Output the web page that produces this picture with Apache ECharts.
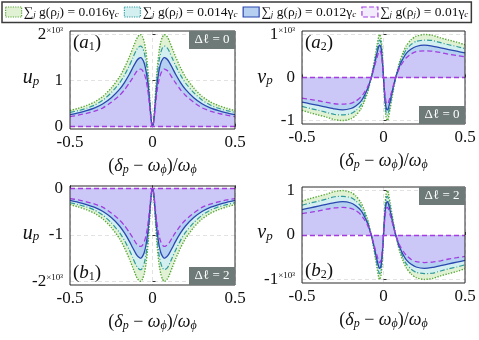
<!DOCTYPE html>
<html>
<head>
<meta charset="utf-8">
<script src="https://cdn.jsdelivr.net/npm/echarts@6/dist/echarts.min.js"></script>
<style>
  html, body { margin: 0; padding: 0; background: #fff; }
  #chart { width: 479px; height: 340px; }
</style>
</head>
<body>
<div id="chart"></div>
<script>
// detuning (δp - ωφ)/ωφ
const detuning = [-0.5,-0.45,-0.4,-0.35,-0.3,-0.25,-0.2,-0.17,-0.14,-0.12,-0.1,-0.09,-0.08,-0.075,-0.07,-0.06,-0.05,-0.04,-0.03,-0.025,-0.02,-0.015,-0.01,-0.005,
  0,0.005,0.01,0.015,0.02,0.025,0.03,0.04,0.05,0.06,0.07,0.075,0.08,0.09,0.1,0.12,0.14,0.17,0.2,0.25,0.3,0.35,0.4,0.45,0.5];

// u_p (×10^3), Δℓ = 0
const uG016 = [0.35,0.40,0.46,0.54,0.66,0.84,1.08,1.28,1.52,1.70,1.88,1.95,1.99,2.0,2.0,1.95,1.84,1.64,1.32,1.10,0.84,0.56,0.28,0.08,
  0,0.08,0.28,0.56,0.84,1.10,1.32,1.64,1.84,1.95,2.0,2.0,1.99,1.95,1.88,1.70,1.52,1.28,1.08,0.84,0.66,0.54,0.46,0.40,0.35];
const uG014 = [0.31,0.35,0.40,0.47,0.58,0.74,0.95,1.12,1.33,1.49,1.65,1.71,1.74,1.75,1.75,1.71,1.61,1.44,1.16,0.96,0.74,0.49,0.25,0.07,
  0,0.07,0.25,0.49,0.74,0.96,1.16,1.44,1.61,1.71,1.75,1.75,1.74,1.71,1.65,1.49,1.33,1.12,0.95,0.74,0.58,0.47,0.40,0.35,0.31];
const uG012 = [0.26,0.30,0.35,0.41,0.50,0.63,0.81,0.96,1.14,1.28,1.41,1.46,1.49,1.50,1.50,1.46,1.38,1.23,0.99,0.83,0.63,0.42,0.21,0.06,
  0,0.06,0.21,0.42,0.63,0.83,0.99,1.23,1.38,1.46,1.50,1.50,1.49,1.46,1.41,1.28,1.14,0.96,0.81,0.63,0.50,0.41,0.35,0.30,0.26];
const uG010 = [0.22,0.25,0.29,0.34,0.41,0.53,0.68,0.80,0.95,1.06,1.18,1.22,1.24,1.25,1.25,1.22,1.15,1.03,0.83,0.69,0.53,0.35,0.18,0.05,
  0,0.05,0.18,0.35,0.53,0.69,0.83,1.03,1.15,1.22,1.25,1.25,1.24,1.22,1.18,1.06,0.95,0.80,0.68,0.53,0.41,0.34,0.29,0.25,0.22];

// v_p (×10^3), Δℓ = 0
const vG016 = [-0.76,-0.82,-0.87,-0.92,-0.98,-1.0,-0.96,-0.88,-0.74,-0.58,-0.38,-0.24,-0.08,0,0.10,0.30,0.52,0.74,0.94,1.0,0.98,0.90,0.70,0.38,
  0,-0.38,-0.70,-0.90,-0.98,-1.0,-0.94,-0.74,-0.52,-0.30,-0.10,0,0.08,0.24,0.38,0.58,0.74,0.88,0.96,1.0,0.98,0.92,0.87,0.82,0.76];
const vG014 = [-0.67,-0.72,-0.76,-0.81,-0.86,-0.87,-0.84,-0.77,-0.65,-0.51,-0.33,-0.21,-0.07,0,0.08,0.26,0.45,0.65,0.82,0.87,0.86,0.79,0.61,0.33,
  0,-0.33,-0.61,-0.79,-0.86,-0.87,-0.82,-0.65,-0.45,-0.26,-0.08,0,0.07,0.21,0.33,0.51,0.65,0.77,0.84,0.87,0.86,0.81,0.76,0.72,0.67];
const vG012 = [-0.57,-0.61,-0.65,-0.69,-0.73,-0.75,-0.72,-0.66,-0.56,-0.44,-0.28,-0.18,-0.06,0,0.07,0.22,0.39,0.56,0.71,0.75,0.74,0.68,0.52,0.29,
  0,-0.29,-0.52,-0.68,-0.74,-0.75,-0.71,-0.56,-0.39,-0.22,-0.07,0,0.06,0.18,0.28,0.44,0.56,0.66,0.72,0.75,0.73,0.69,0.65,0.61,0.57];
const vG010 = [-0.48,-0.51,-0.54,-0.58,-0.61,-0.62,-0.60,-0.55,-0.46,-0.36,-0.24,-0.15,-0.05,0,0.06,0.19,0.33,0.46,0.59,0.62,0.61,0.56,0.44,0.24,
  0,-0.24,-0.44,-0.56,-0.61,-0.62,-0.59,-0.46,-0.33,-0.19,-0.06,0,0.05,0.15,0.24,0.36,0.46,0.55,0.60,0.62,0.61,0.58,0.54,0.51,0.48];

const couplings = ['0.016', '0.014', '0.012', '0.01'];
const uSets = [uG016, uG014, uG012, uG010];
const vSets = [vG016, vG014, vG012, vG010];

const SERIF = '"Liberation Serif", "DejaVu Serif", serif';
const lineColors = ['#5aa83a', '#2f9a9c', '#2a48b0', '#a43ce0'];
const fillColors = ['#e1f2d4', '#d3eff0', '#b5d0f1', '#cbc7f6'];
const lineTypes = ['dotted', [5, 2, 1, 2], 'solid', [5, 3]];
const lineWidths = [1.4, 1.2, 1.3, 1.3];

const grids = [
  { left: 70, top: 31, width: 165, height: 98 },
  { left: 302, top: 31, width: 163, height: 93 },
  { left: 70, top: 186, width: 165, height: 99 },
  { left: 302, top: 187, width: 163, height: 96 }
];

// each panel: which quantity, sign (Δℓ = 2 flips it), y range, ticks
const panels = [
  { sets: uSets, sign: 1, min: -0.05, max: 2.08, ticks: [0, 1, 2], exp: 2, yname: 'u', tag: 'a', sub: '1', dl: '0', dlPos: 'tr', tagPos: 'tl' },
  { sets: vSets, sign: 1, min: -1.08, max: 1.08, ticks: [-1, 0, 1], exp: 1, yname: 'v', tag: 'a', sub: '2', dl: '0', dlPos: 'br', tagPos: 'tl' },
  { sets: uSets, sign: -1, min: -2.08, max: 0.05, ticks: [-2, -1, 0], exp: -2, yname: 'u', tag: 'b', sub: '1', dl: '2', dlPos: 'br', tagPos: 'bl' },
  { sets: vSets, sign: -1, min: -1.08, max: 1.08, ticks: [-1, 0, 1], exp: -1, yname: 'v', tag: 'b', sub: '2', dl: '2', dlPos: 'tr', tagPos: 'bl' }
];

const chart = echarts.init(document.getElementById('chart'));

const xAxes = [], yAxes = [], series = [], graphics = [];

panels.forEach((p, i) => {
  const g = grids[i];
  xAxes.push({
    type: 'value', gridIndex: i, min: -0.5, max: 0.5, interval: 0.5,
    axisLine: { show: false },
    axisTick: { show: true, inside: true, length: 3, lineStyle: { color: '#333' } },
    axisLabel: { color: '#111', fontFamily: SERIF, fontSize: 17, margin: 5 },
    splitLine: { show: true, lineStyle: { color: '#e2e2e2', type: [4, 3] } },
    name: '{n|(}{g|δ}{s|p}{n| − }{g|ω}{s|ϕ}{n|)/}{g|ω}{s|ϕ}',
    nameLocation: 'middle', nameGap: 27,
    nameTextStyle: {
      rich: {
        n: { fontFamily: SERIF, fontSize: 18, color: '#111', lineHeight: 20 },
        g: { fontFamily: SERIF, fontSize: 18, fontStyle: 'italic', color: '#111', lineHeight: 20 },
        s: { fontFamily: SERIF, fontSize: 12, fontStyle: 'italic', color: '#111', verticalAlign: 'bottom', lineHeight: 12 }
      }
    }
  });
  yAxes.push({
    type: 'value', gridIndex: i, min: p.min, max: p.max,
    axisLine: { show: false },
    axisTick: { show: true, inside: true, length: 3, customValues: p.ticks, lineStyle: { color: '#333' } },
    axisLabel: {
      customValues: p.ticks, color: '#111', fontFamily: SERIF, fontSize: 17, margin: 7,
      formatter: v => (v === p.exp ? String(v) + '{e|×10³}' : String(v)),
      rich: { e: { fontFamily: SERIF, fontSize: 9, color: '#111', verticalAlign: 'top', lineHeight: 9 } }
    },
    splitLine: { show: true, lineStyle: { color: '#e2e2e2', type: [4, 3] } }
  });

  p.sets.forEach((vals, k) => {
    const s = {
      name: couplings[k],
      type: 'line', xAxisIndex: i, yAxisIndex: i,
      data: detuning.map((x, j) => [x, p.sign * vals[j]]),
      showSymbol: false, silent: true, smooth: 0.2,
      lineStyle: { color: lineColors[k], width: lineWidths[k], type: lineTypes[k] },
      itemStyle: { color: lineColors[k] },
      areaStyle: { color: fillColors[k], opacity: 1, origin: 0 }
    };
    if (k === 3) {
      s.markLine = {
        silent: true, symbol: 'none', label: { show: false },
        lineStyle: { color: lineColors[3], type: [5, 3], width: 1.3 },
        data: [{ yAxis: 0 }]
      };
    }
    series.push(s);
  });

  // frame
  graphics.push({
    type: 'rect', z: 100, silent: true,
    shape: { x: g.left, y: g.top, width: g.width, height: g.height },
    style: { fill: null, stroke: '#2b2b2b', lineWidth: 1 }
  });

  // panel tag (a1) etc
  const tagY = p.tagPos === 'tl' ? g.top + 2 : g.top + g.height - 22;
  graphics.push({
    type: 'text', z: 101, x: g.left + 3, y: tagY,
    style: {
      text: '{n|(}{i|' + p.tag + '}{s|' + p.sub + '}{n|)}',
      rich: {
        n: { fontFamily: SERIF, fontSize: 19, fill: '#111', lineHeight: 20 },
        i: { fontFamily: SERIF, fontSize: 19, fontStyle: 'italic', fill: '#111', lineHeight: 20 },
        s: { fontFamily: SERIF, fontSize: 12, fill: '#111', verticalAlign: 'bottom', lineHeight: 12 }
      }
    }
  });

  // Δℓ box
  const bw = 46, bh = 18;
  const bx = g.left + g.width - bw;
  const by = p.dlPos === 'tr' ? g.top : g.top + g.height - bh;
  graphics.push({
    type: 'rect', z: 101, silent: true,
    shape: { x: bx, y: by, width: bw, height: bh },
    style: { fill: '#6e7a77' }
  });
  graphics.push({
    type: 'text', z: 102, x: bx + bw / 2, y: by + bh / 2,
    style: {
      text: 'Δℓ = ' + p.dl, fill: '#fff', font: '13px ' + SERIF,
      align: 'center', verticalAlign: 'middle'
    }
  });

  // y axis name
  graphics.push({
    type: 'text', z: 101,
    x: i % 2 === 0 ? 31 : 265,
    y: g.top + g.height / 2 - (i === 1 ? 0 : 2),
    style: {
      text: '{i|' + p.yname + '}{s|p}',
      align: 'center', verticalAlign: 'middle',
      rich: {
        i: { fontFamily: SERIF, fontSize: 20, fontStyle: 'italic', fill: '#111', lineHeight: 20 },
        s: { fontFamily: SERIF, fontSize: 13, fontStyle: 'italic', fill: '#111', verticalAlign: 'bottom', lineHeight: 12 }
      }
    }
  });
});

const legendIcons = couplings.map((c, k) => ({
  name: c,
  icon: 'rect',
  itemStyle: {
    color: k === 3 ? '#f3ecfd' : fillColors[k],
    borderColor: lineColors[k], borderWidth: 1.2,
    borderType: k === 2 ? 'solid' : (k === 3 ? 'dashed' : 'dotted')
  }
}));

chart.setOption({
  backgroundColor: '#fff',
  animation: false,
  grid: grids.map(g => Object.assign({ containLabel: false }, g)),
  xAxis: xAxes,
  yAxis: yAxes,
  legend: {
    data: legendIcons,
    left: 2, top: 2, width: 476,
    itemWidth: 16, itemHeight: 10, itemGap: 5,
    padding: [3, 3, 3, 3],
    borderColor: '#3a3a3a', borderWidth: 1.5,
    selectedMode: false,
    formatter: n => '{t|∑}{s|j}{t| g(ρ}{s|j}{t|) = ' + n + 'γ}{s|c}',
    textStyle: {
      padding: [0, 0, 0, -3],
      rich: {
        t: { fontFamily: SERIF, fontSize: 13.5, color: '#111', lineHeight: 15 },
        s: { fontFamily: SERIF, fontSize: 9, fontStyle: 'italic', color: '#111', verticalAlign: 'bottom', lineHeight: 9 }
      }
    }
  },
  graphic: graphics,
  series: series
});
</script>
</body>
</html>
